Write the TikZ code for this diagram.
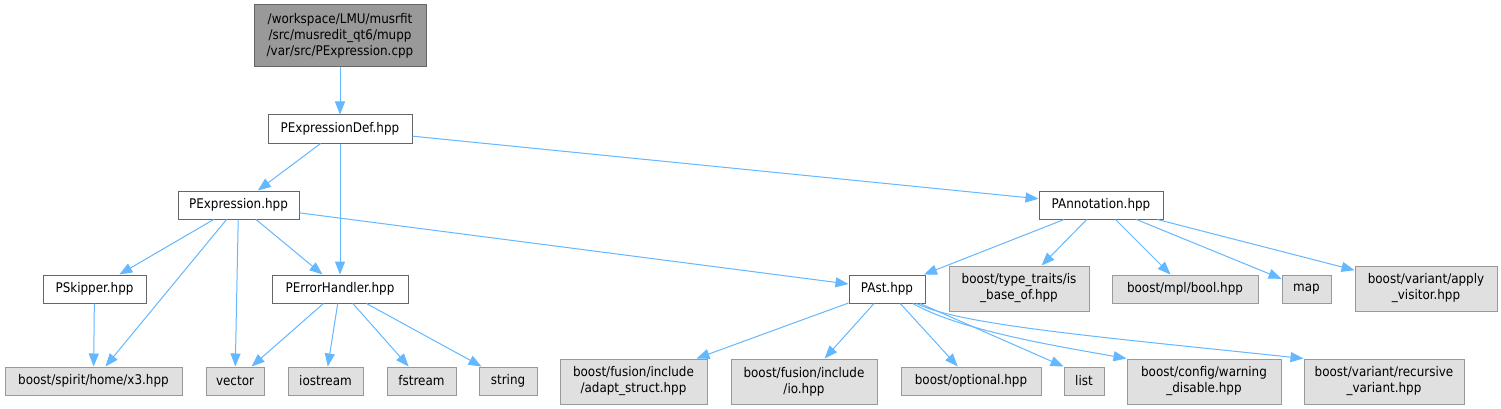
\documentclass[tikz,border=0pt]{standalone}
\usepackage{fontspec}
\setmainfont{DejaVu Sans Condensed}
\usetikzlibrary{arrows.meta}
\definecolor{edgeblue}{HTML}{63B8FF}
\definecolor{projborder}{HTML}{666666}
\definecolor{extfill}{HTML}{E0E0E0}
\definecolor{extborder}{HTML}{999999}
\definecolor{rootfill}{HTML}{999999}
\begin{document}
\begin{tikzpicture}[x=1pt,y=-1pt,
  base/.style={draw, line width=1pt, inner sep=0pt, align=center,
    font=\fontsize{13.3}{16}\selectfont, text=black},
  proj/.style={base, fill=white, draw=projborder},
  ext/.style={base, fill=extfill, draw=extborder},
  rootnode/.style={base, fill=rootfill, draw=projborder},
  edge/.style={draw=edgeblue, line width=1pt, -{Triangle[length=13pt,width=10pt]}}]
\useasboundingbox[fill=white] (0,0) rectangle (1501,409);

% nodes
\node[rootnode, minimum width=172pt, minimum height=62pt] (root) at (340,36)
  {/workspace/LMU/musrfit\\/src/musredit\_qt6/mupp\\/var/src/PExpression.cpp};
\node[proj, minimum width=144pt, minimum height=28pt] (def) at (340,129) {PExpressionDef.hpp};
\node[proj, minimum width=121pt, minimum height=28pt] (expr) at (238.5,205) {PExpression.hpp};
\node[proj, minimum width=124pt, minimum height=28pt] (annot) at (1101,205) {PAnnotation.hpp};
\node[proj, minimum width=103pt, minimum height=28pt] (skipper) at (94.5,289) {PSkipper.hpp};
\node[proj, minimum width=136pt, minimum height=28pt] (errh) at (340,289) {PErrorHandler.hpp};
\node[proj, minimum width=76pt, minimum height=28pt] (past) at (887,289) {PAst.hpp};
\node[ext, minimum width=140pt, minimum height=45pt] (traits) at (1019,288.5) {boost/type\_traits/is\\\_base\_of.hpp};
\node[ext, minimum width=146pt, minimum height=28pt] (bool) at (1185,289) {boost/mpl/bool.hpp};
\node[ext, minimum width=49pt, minimum height=28pt] (map) at (1306.5,289) {map};
\node[ext, minimum width=142pt, minimum height=45pt] (apply) at (1426,288.5) {boost/variant/apply\\\_visitor.hpp};
\node[ext, minimum width=177pt, minimum height=28pt] (x3) at (93.5,381) {boost/spirit/home/x3.hpp};
\node[ext, minimum width=58pt, minimum height=28pt] (vector) at (235,381) {vector};
\node[ext, minimum width=75pt, minimum height=28pt] (iostream) at (325.5,381) {iostream};
\node[ext, minimum width=69pt, minimum height=28pt] (fstream) at (421.5,381) {fstream};
\node[ext, minimum width=58pt, minimum height=28pt] (string) at (508,381) {string};
\node[ext, minimum width=147pt, minimum height=45pt] (adapt) at (633.5,381.5) {boost/fusion/include\\/adapt\_struct.hpp};
\node[ext, minimum width=146pt, minimum height=45pt] (io) at (804,381.5) {boost/fusion/include\\/io.hpp};
\node[ext, minimum width=140pt, minimum height=28pt] (optional) at (971,381) {boost/optional.hpp};
\node[ext, minimum width=40pt, minimum height=28pt] (list) at (1084,381) {list};
\node[ext, minimum width=154pt, minimum height=45pt] (warning) at (1204,381.5) {boost/config/warning\\\_disable.hpp};
\node[ext, minimum width=160pt, minimum height=45pt] (recursive) at (1384,381.5) {boost/variant/recursive\\\_variant.hpp};

% edges
\draw[edge] (root) -- (def);
\draw[edge] (def) -- (expr);
\draw[edge] (def) -- (errh);
\draw[edge] (def) -- (annot);
\draw[edge] (expr) -- (skipper);
\draw[edge] (expr) -- (x3);
\draw[edge] (expr) -- (vector);
\draw[edge] (expr) -- (errh);
\draw[edge] (expr) -- (past);
\draw[edge] (skipper) -- (x3);
\draw[edge] (errh) -- (vector);
\draw[edge] (errh) -- (iostream);
\draw[edge] (errh) -- (fstream);
\draw[edge] (errh) -- (string);
\draw[edge] (annot) -- (past);
\draw[edge] (annot) -- (traits);
\draw[edge] (annot) -- (bool);
\draw[edge] (annot) -- (map);
\draw[edge] (annot) -- (apply);
\draw[edge] (past) -- (adapt);
\draw[edge] (past) -- (io);
\draw[edge] (past) -- (optional);
\draw[edge] (past) -- (list.north west);
\draw[edge] (past) .. controls (960,330) and (1050,345) .. (warning.north west);
\draw[edge] (past) .. controls (960,325) and (1100,337) .. (recursive.north west);
\end{tikzpicture}
\end{document}
